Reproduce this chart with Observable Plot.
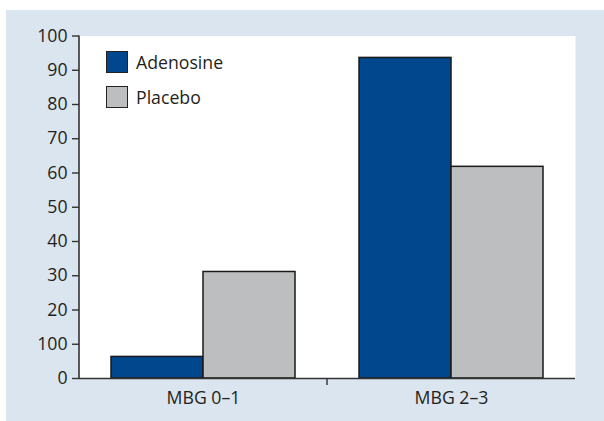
<!DOCTYPE html>
<html>
<head>
<meta charset="utf-8">
<script src="https://cdn.jsdelivr.net/npm/d3@7"></script>
<script src="https://cdn.jsdelivr.net/npm/@observablehq/plot@0.6"></script>
<style>
  html, body { margin: 0; padding: 0; background: #ffffff; }
  #wrap { position: relative; width: 604px; height: 421px; overflow: hidden; font-family: "Open Sans", sans-serif; }
  #bg { position: absolute; left: 6px; top: 10px; right: 0; bottom: 0; background: #dbe5ef; }
  #chart { position: absolute; left: 0; top: 0; }
  #legend { position: absolute; left: 106px; top: 50px; }
  .row { display: flex; align-items: center; height: 23px; margin-bottom: 12px; }
  .sw { width: 20px; height: 20px; border: 1.5px solid #222; margin-right: 8px; }
  .lb { font-size: 17.7px; color: #231f20; }
</style>
</head>
<body>
<div id="wrap"><div id="bg"></div><div id="chart"></div><div id="legend"></div></div>
<script>
const groups = ["MBG 0–1", "MBG 2–3"];
const series = ["Adenosine", "Placebo"];
const adenosine = [6.3, 93.6];
const placebo = [31.1, 61.8];
const colors = ["#01478d", "#bdbec0"];
const yTicks = [0, 10, 20, 30, 40, 50, 60, 70, 80, 90, 100];
const yTickLabels = ["0", "100", "20", "30", "40", "50", "60", "70", "80", "90", "100"];

const data = [];
groups.forEach((g, i) => {
  data.push({group: g, series: series[0], value: adenosine[i]});
  data.push({group: g, series: series[1], value: placebo[i]});
});

const chart = Plot.plot({
  width: 604,
  height: 421,
  marginLeft: 79,
  marginRight: 29,
  marginTop: 35.5,
  marginBottom: 43,
  style: {background: "transparent", fontFamily: "Open Sans, sans-serif", fontSize: "17.7px", color: "#231f20"},
  fx: {domain: groups, padding: 0, label: null},
  x: {domain: series, paddingInner: 0, paddingOuter: 0.34, axis: null},
  y: {domain: [0, 100], label: null},
  color: {domain: series, range: colors},
  marks: [
    Plot.frame({fill: "white", stroke: "none", facet: "super"}),
    Plot.barY(data, {fx: "group", x: "series", y: "value", fill: "series", stroke: "#1a1a1a", strokeWidth: 1.5}),
    Plot.ruleY([0], {stroke: "#333", strokeWidth: 1.6}),
    Plot.axisY(yTicks, {tickFormat: (d, i) => yTickLabels[i], tickSize: 7, tickPadding: 5, stroke: "#333", strokeWidth: 1.4, fill: "#231f20", label: null}),
    Plot.axisFx({anchor: "bottom", tickSize: 0, tickPadding: 13, label: null, fill: "#231f20"})
  ]
});
document.getElementById("chart").appendChild(chart);

// y-axis line and the group separator tick, positioned from the plot's own scales
const fxs = chart.scale("fx");
const ys = chart.scale("y");
const svg = d3.select(chart);
const xLeft = fxs.apply(groups[0]);
svg.append("line")
  .attr("x1", xLeft).attr("x2", xLeft)
  .attr("y1", ys.apply(0)).attr("y2", ys.apply(100))
  .attr("stroke", "#333").attr("stroke-width", 1.6);
const xSep = fxs.apply(groups[1]);
svg.append("line")
  .attr("x1", xSep).attr("x2", xSep)
  .attr("y1", ys.apply(0)).attr("y2", ys.apply(0) + 7)
  .attr("stroke", "#333").attr("stroke-width", 1.4);

const legend = d3.select("#legend");
series.forEach((s, i) => {
  const row = legend.append("div").attr("class", "row");
  row.append("div").attr("class", "sw").style("background", colors[i]);
  row.append("div").attr("class", "lb").text(s);
});
</script>
</body>
</html>
